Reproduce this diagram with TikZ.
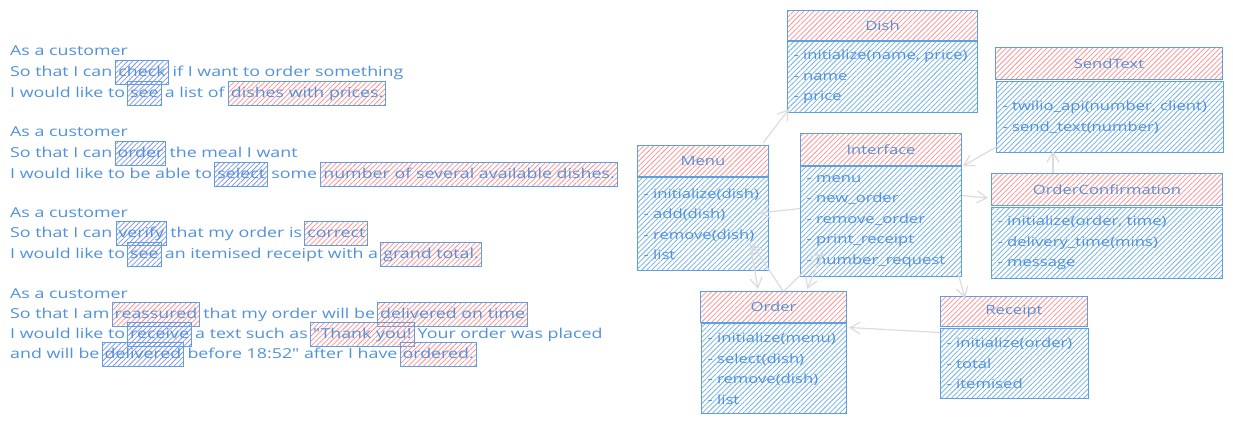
\documentclass[tikz,border=0pt]{standalone}
\usepackage{fontspec}
\usetikzlibrary{patterns.meta,arrows.meta,calc}
\newfontfamily\handfont[FakeStretch=1.3]{Open Sans}
\newcommand\myLfont{\handfont\fontsize{13.7}{16}\selectfont}
\newcommand\myUfont{\handfont\fontsize{12.8}{20.5}\selectfont}
\definecolor{ink}{HTML}{5091DC}
\definecolor{edge}{HTML}{5C9FE3}
\definecolor{hatchR}{HTML}{FF8E8E}
\definecolor{hatchB}{HTML}{6FAEEB}
\definecolor{hatchI}{HTML}{8090EC}
\definecolor{conncol}{HTML}{DCDCDC}
\tikzset{
  tx/.style={anchor=base west, inner sep=0pt, text=ink, font=\myLfont},
  hl/.style={tx, draw=edge, line width=1pt, inner xsep=2.5pt, inner ysep=5pt,
     text height=10.5pt, text depth=3pt,
     pattern={Lines[angle=45,distance=3.6pt,line width=0.75pt]}},
  hlblue/.style={hl, pattern color=hatchI},
  hlred/.style={hl, pattern color=hatchR},
  hdr/.style={draw=edge, line width=1pt, anchor=north west, inner sep=0pt,
     text=ink, font=\myUfont,
     pattern={Lines[angle=45,distance=3.6pt,line width=0.75pt]}, pattern color=hatchR},
  bdy/.style={draw=edge, line width=1pt, anchor=north west, inner xsep=6pt, inner ysep=0pt,
     text=ink, font=\myUfont, align=left,
     pattern={Lines[angle=45,distance=3.6pt,line width=0.75pt]}, pattern color=hatchB},
  conn/.style={draw=conncol, line width=1.2pt, -{Straight Barb[length=10pt,width=12pt]}}
}
\begin{document}
\begin{tikzpicture}[x=1pt,y=-1pt]
\useasboundingbox (0,0) rectangle (1233,423);
% ---------- user stories ----------
\node[tx] (a1) at (10,55) {As a customer};
\node[tx] (a2) at (10,76) {So that I can};
\node[hlblue, xshift=3pt] (a2b) at (a2.base east) {check};
\node[tx, xshift=4pt] (a2c) at (a2b.base east) {if I want to order something};
\node[tx] (a3) at (10,97) {I would like to};
\node[hlblue, xshift=2pt] (a3b) at (a3.base east) {see};
\node[tx, xshift=3pt] (a3c) at (a3b.base east) {a list of};
\node[hlred, xshift=3pt] (a3d) at (a3c.base east) {dishes with prices.};

\node[tx] (b1) at (10,136) {As a customer};
\node[tx] (b2) at (10,157) {So that I can};
\node[hlblue, xshift=2pt] (b2b) at (b2.base east) {order};
\node[tx, xshift=3pt] (b2c) at (b2b.base east) {the meal I want};
\node[tx] (b3) at (10,178) {I would like to be able to};
\node[hlblue, xshift=2pt] (b3b) at (b3.base east) {select};
\node[tx, xshift=3pt] (b3c) at (b3b.base east) {some};
\node[hlred, xshift=3pt] (b3d) at (b3c.base east) {number of several available dishes.};

\node[tx] (c1) at (10,217) {As a customer};
\node[tx] (c2) at (10,237) {So that I can};
\node[hlblue, xshift=3pt] (c2b) at (c2.base east) {verify};
\node[tx, xshift=3pt] (c2c) at (c2b.base east) {that my order is};
\node[hlred, xshift=2pt] (c2d) at (c2c.base east) {correct};
\node[tx] (c3) at (10,258) {I would like to};
\node[hlblue, xshift=2pt] (c3b) at (c3.base east) {see};
\node[tx, xshift=3pt] (c3c) at (c3b.base east) {an itemised receipt with a};
\node[hlred, xshift=2pt] (c3d) at (c3c.base east) {grand total.};

\node[tx] (d1) at (10,298) {As a customer};
\node[tx] (d2) at (10,318) {So that I am};
\node[hlred, xshift=2pt] (d2b) at (d2.base east) {reassured};
\node[tx, xshift=3pt] (d2c) at (d2b.base east) {that my order will be};
\node[hlred, xshift=2pt] (d2d) at (d2c.base east) {delivered on time};
\node[tx] (d3) at (10,338) {I would like to};
\node[hlblue, xshift=2pt] (d3b) at (d3.base east) {receive};
\node[tx, xshift=3pt] (d3c) at (d3b.base east) {a text such as};
\node[hlred, xshift=2pt] (d3d) at (d3c.base east) {"Thank you!};
\node[tx, xshift=3pt] (d3e) at (d3d.base east) {Your order was placed};
\node[tx] (d4) at (10,358) {and will be};
\node[hlblue, xshift=2pt] (d4b) at (d4.base east) {delivered};
\node[tx, xshift=3pt] (d4c) at (d4b.base east) {before 18:52" after I have};
\node[hlred, xshift=2pt] (d4d) at (d4c.base east) {ordered.};

% ---------- classes ----------
\node[hdr, minimum width=190, minimum height=30] (dishH) at (787,10) {Dish};
\node[bdy, text width=178, minimum height=71] (dishB) at (787,41)
  {- initialize(name, price)\\- name\\- price};

\node[hdr, minimum width=227, minimum height=32] (sendH) at (995,47) {SendText};
\node[bdy, text width=215, minimum height=71] (sendB) at (996,81)
  {- twilio\_api(number, client)\\- send\_text(number)};

\node[hdr, minimum width=131, minimum height=31] (menuH) at (637,145) {Menu};
\node[bdy, text width=119, minimum height=93] (menuB) at (637,177)
  {- initialize(dish)\\- add(dish)\\- remove(dish)\\- list};

\node[hdr, minimum width=161, minimum height=32] (intH) at (800,133) {Interface};
\node[bdy, text width=149, minimum height=110] (intB) at (800,166)
  {- menu\\- new\_order\\- remove\_order\\- print\_receipt\\- number\_request};

\node[hdr, minimum width=231, minimum height=32] (ocH) at (991,173) {OrderConfirmation};
\node[bdy, text width=219, minimum height=71] (ocB) at (991,207)
  {- initialize(order, time)\\- delivery\_time(mins)\\- message};

\node[hdr, minimum width=146, minimum height=31] (ordH) at (700,291) {Order};
\node[bdy, text width=133, minimum height=90] (ordB) at (701,323)
  {- initialize(menu)\\- select(dish)\\- remove(dish)\\- list};

\node[hdr, minimum width=147, minimum height=30] (recH) at (940,296) {Receipt};
\node[bdy, text width=136, minimum height=70] (recB) at (940,328)
  {- initialize(order)\\- total\\- itemised};

% ---------- connectors ----------
\draw[conn] ($(menuH.north east)+(-6,-2)$) -- ($(dishB.south west)+(2,-4)$);
\draw[conn] ($(intB.west)+(0,-13)$) -- ($(menuB.east)+(-10,-11)$);
\draw[conn] ($(sendB.south west)+(2,-7)$) -- ($(intH.south east)+(1,0)$);
\draw[conn] ($(intB.east)+(0,-26)$) -- ($(ocH.south west)+(-3,-8)$);
\draw[conn] ($(ocH.north west)+(62,0)$) -- ($(sendB.south west)+(57,-2)$);
\draw[conn] ($(intB.south east)+(-4,-4)$) -- ($(recH.north west)+(25,2)$);
\draw[conn] ($(recB.west)+(0,-31)$) -- ($(ordB.east)+(2,-41)$);
\draw[conn] ($(menuB.south west)+(113,-27)$) -- ($(ordH.north west)+(58,-2)$);
\draw[conn] ($(ordH.north west)+(83,0)$) -- ($(menuB.south west)+(115,-27)$);
\draw[conn] ($(ordH.north west)+(84,0)$) -- ($(intB.south west)+(23,-24)$);
\draw[conn] ($(intB.south west)+(22,-22)$) -- ($(ordH.north west)+(107,-2)$);
\end{tikzpicture}
\end{document}
